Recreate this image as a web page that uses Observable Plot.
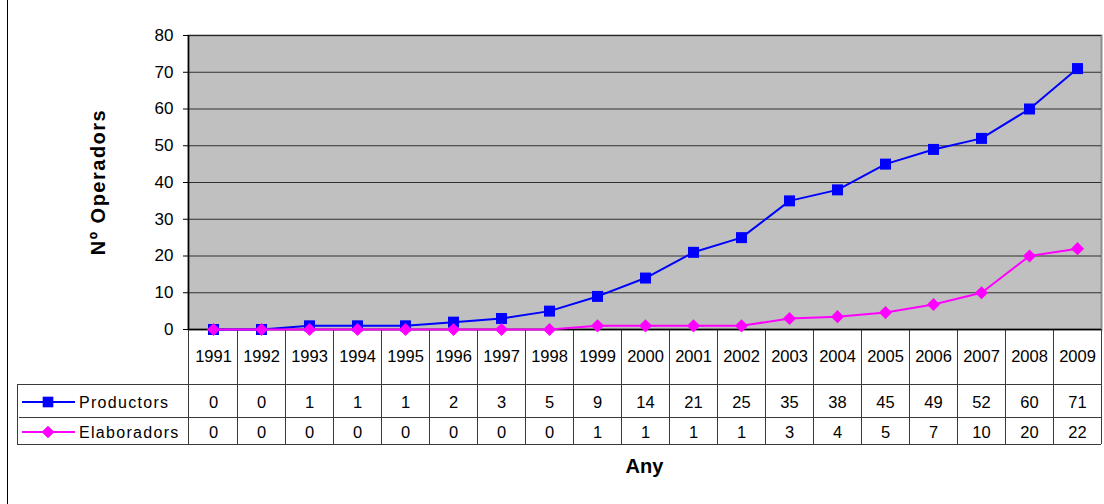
<!DOCTYPE html>
<html><head><meta charset="utf-8">
<script src="https://cdn.jsdelivr.net/npm/d3@7"></script>
<script src="https://cdn.jsdelivr.net/npm/@observablehq/plot@0.6"></script>
<style>
html,body{margin:0;padding:0;background:#fff;}
#chart{width:1104px;height:504px;overflow:hidden;}
</style>
</head><body><div id="chart"></div>
<script>
// ---- data ----
const years = ["1991","1992","1993","1994","1995","1996","1997","1998","1999","2000","2001","2002","2003","2004","2005","2006","2007","2008","2009"];
const productors = [0,0,1,1,1,2,3,5,9,14,21,25,35,38,45,49,52,60,71];
const elaboradors = [0,0,0,0,0,0,0,0,1,1,1,1,3,3.5,4.6,6.8,10,20,22];
const seriesNames = ["Productors","Elaboradors"];
const seriesColors = ["#0000FF","#FF00FF"];
const yTicks = [0,10,20,30,40,50,60,70,80];
const yLabel = "Nº Operadors";
const xLabel = "Any";

// ---- derived tables ----
const rows = years.map((year, i) => ({year, productors: productors[i], elaboradors: elaboradors[i]}));
const long = [
  ...rows.map(d => ({year: d.year, value: d.productors, series: seriesNames[0]})),
  ...rows.map(d => ({year: d.year, value: d.elaboradors, series: seriesNames[1]}))
];

const diamondSym = {draw(ctx, size) {
  const r = Math.sqrt(size) * 0.65;
  ctx.moveTo(0, -r); ctx.lineTo(r, 0); ctx.lineTo(0, r); ctx.lineTo(-r, 0); ctx.closePath();
}};
const squareSym = {draw(ctx, size) {
  const h = Math.sqrt(size) / 2;
  ctx.rect(-h, -h, 2 * h, 2 * h);
}};
const symbols = [squareSym, diamondSym];

const font = "Liberation Sans, Arial, sans-serif";

// table grid, legend samples and axis titles, positioned from the scales/frame
function tableMark(index, scales, values, dims) {
  const x = scales.x;
  const step = x(years[1]) - x(years[0]);
  const L = dims.marginLeft, R = dims.width - dims.marginRight;
  const T = dims.marginTop, B = dims.height - dims.marginBottom;
  const g = d3.create("svg:g");
  const lc = "#3a3a3a";
  const r1 = B + 55, r2 = B + 88, r3 = B + 115;
  // outer figure border (left)
  g.append("line").attr("x1", 7.5).attr("x2", 7.5).attr("y1", 0).attr("y2", dims.height).attr("stroke", "#000");
  // horizontal table lines
  [[r1, L - 171], [r2, L - 169], [r3, L - 171]].forEach(([y, x0]) =>
    g.append("line").attr("x1", x0).attr("x2", R).attr("y1", y + 0.5).attr("y2", y + 0.5).attr("stroke", lc));
  // left legend border
  g.append("line").attr("x1", L - 171 + 0.5).attr("x2", L - 171 + 0.5).attr("y1", r1).attr("y2", r3).attr("stroke", lc);
  // column separators
  const seps = [L, ...years.slice(1).map(y => x(y) - step / 2), R];
  seps.forEach(sx => g.append("line").attr("x1", Math.round(sx) + 0.5).attr("x2", Math.round(sx) + 0.5)
    .attr("y1", B).attr("y2", r3).attr("stroke", lc));
  // axis lines
  g.append("line").attr("x1", L + 0.5).attr("x2", L + 0.5).attr("y1", T).attr("y2", B).attr("stroke", "#000").attr("stroke-width", 1.5);
  g.append("line").attr("x1", L).attr("x2", R).attr("y1", B + 0.5).attr("y2", B + 0.5).attr("stroke", "#000").attr("stroke-width", 1.5);
  // legend samples
  const rowYs = [B + 73, B + 103];
  seriesNames.forEach((name, i) => {
    const yy = rowYs[i];
    g.append("line").attr("x1", L - 166).attr("x2", L - 113).attr("y1", yy).attr("y2", yy)
      .attr("stroke", seriesColors[i]).attr("stroke-width", 2);
    g.append("path").attr("transform", `translate(${L - 140},${yy})`)
      .attr("d", d3.symbol(symbols[i], i === 0 ? 113 : 95)())
      .attr("fill", seriesColors[i]);
    g.append("text").attr("x", L - 109).attr("y", yy).attr("dy", "0.35em")
      .attr("text-anchor", "start")
      .attr("font-size", 16).attr("letter-spacing", "1.3px").attr("font-family", font)
      .attr("fill", "#000").text(name);
  });
  // axis titles
  g.append("text").attr("transform", `translate(${L - 90},${(T + B) / 2}) rotate(-90)`)
    .attr("text-anchor", "middle").attr("dy", "0.35em")
    .attr("font-size", 20).attr("font-weight", "bold").attr("letter-spacing", "1.5px")
    .attr("font-family", font).attr("fill", "#000").text(yLabel);
  g.append("text").attr("x", (L + R) / 2).attr("y", B + 137)
    .attr("text-anchor", "middle").attr("dy", "0.35em")
    .attr("font-size", 20).attr("font-weight", "bold")
    .attr("font-family", font).attr("fill", "#000").text(xLabel);
  return g.node();
}

const chart = Plot.plot({
  width: 1104,
  height: 504,
  marginLeft: 188,
  marginRight: 3,
  marginTop: 35,
  marginBottom: 175,
  style: {fontFamily: font, fontSize: "16px", background: "#fff", overflow: "visible"},
  x: {type: "point", domain: years, padding: 0.5, axis: null},
  y: {domain: [0, 80], axis: null},
  color: {domain: seriesNames, range: seriesColors},
  marks: [
    Plot.frame({fill: "#c0c0c0", stroke: "#8c8c8c", strokeWidth: 2}),
    Plot.gridY(yTicks, {stroke: "#000", strokeOpacity: 0.75}),
    Plot.axisY(yTicks, {tickSize: 5, tickPadding: 10, fontSize: 17, label: null, stroke: "#000"}),
    tableMark,
    Plot.line(long, {x: "year", y: "value", z: "series", stroke: "series", strokeWidth: 2}),
    Plot.dot(long.filter(d => d.series === seriesNames[0]), {x: "year", y: "value", symbol: squareSym, r: 6.2, fill: seriesColors[0]}),
    Plot.dot(long.filter(d => d.series === seriesNames[1]), {x: "year", y: "value", symbol: diamondSym, r: 5.7, fill: seriesColors[1]}),
    // table text
    Plot.text(rows, {x: "year", text: "year", frameAnchor: "bottom", lineAnchor: "middle", dy: 27.5, fontSize: 16.5, fill: "#000"}),
    Plot.text(rows, {x: "year", text: d => String(Math.round(d.productors)), frameAnchor: "bottom", lineAnchor: "middle", dy: 73, fontSize: 16.5, fill: "#000"}),
    Plot.text(rows, {x: "year", text: d => String(Math.round(d.elaboradors)), frameAnchor: "bottom", lineAnchor: "middle", dy: 103, fontSize: 16.5, fill: "#000"})
  ]
});
document.getElementById("chart").append(chart);
</script>
</body></html>
